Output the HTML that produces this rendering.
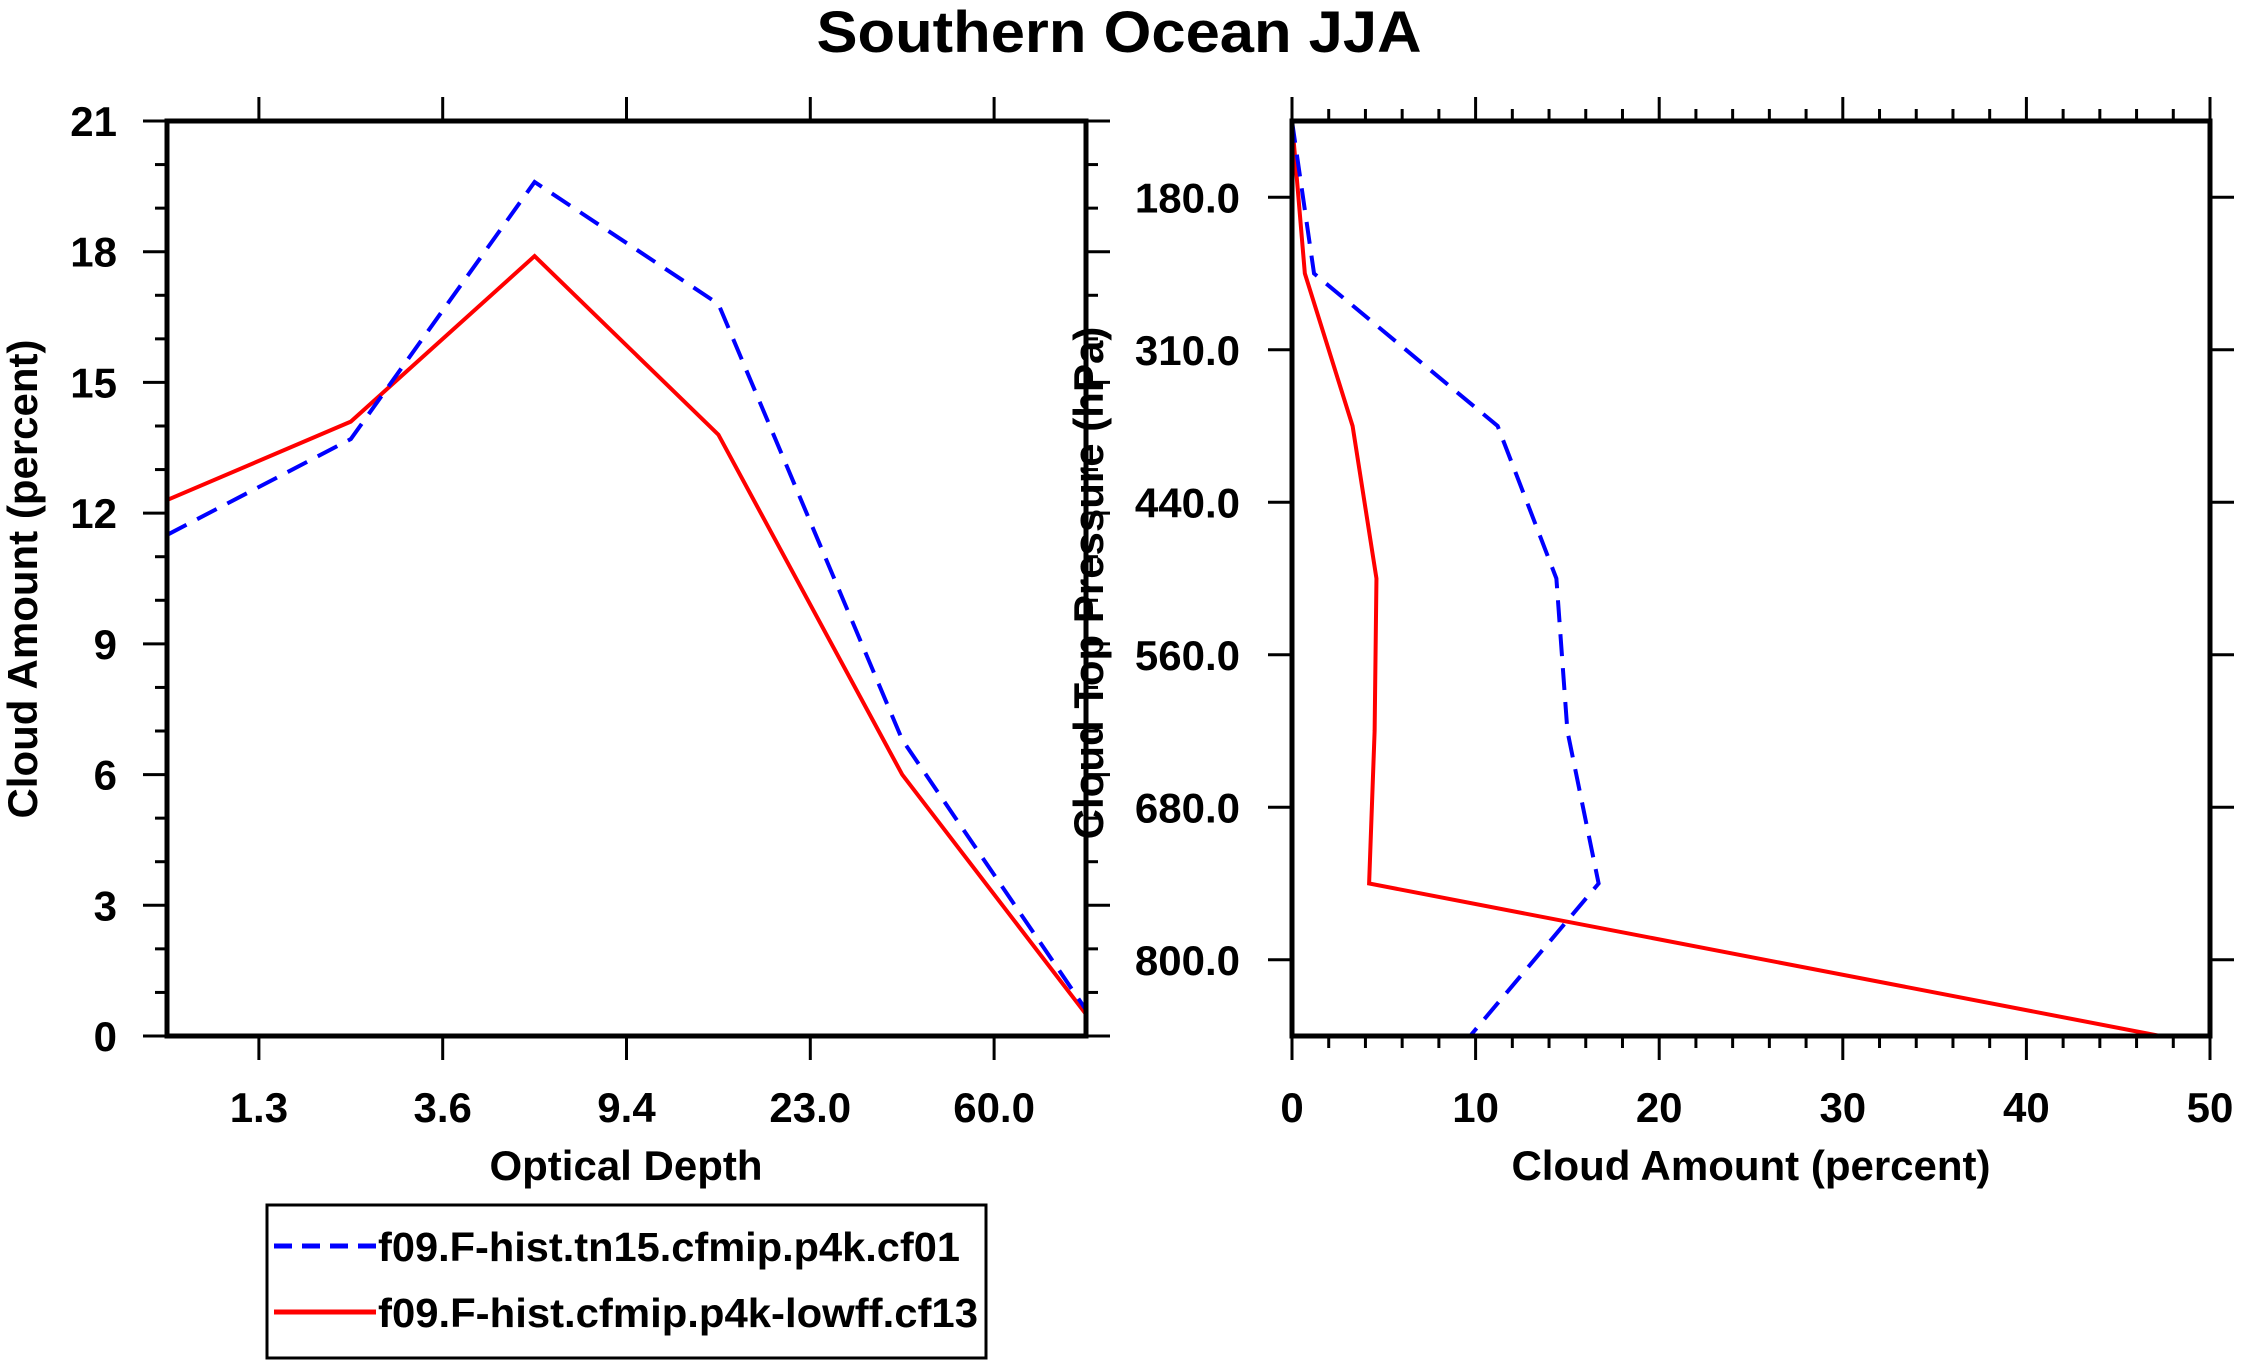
<!DOCTYPE html>
<html><head><meta charset="utf-8"><style>
html,body{margin:0;padding:0;background:#fff;}
svg{display:block;font-family:"Liberation Sans",Arial,sans-serif;font-weight:bold;}
</style></head><body>
<svg id="chart" width="2241" height="1367" viewBox="0 0 2241 1367" xmlns="http://www.w3.org/2000/svg">
<text x="1119" y="52" font-size="58" text-anchor="middle" textLength="605" lengthAdjust="spacingAndGlyphs">Southern Ocean JJA</text>
<g id="left"></g>
<g id="right"></g>
<g>
<rect x="267" y="1205" width="719" height="153" fill="none" stroke="#000" stroke-width="3"/>
<line x1="274" y1="1246" x2="376" y2="1246" stroke="#0000ff" stroke-width="5" stroke-dasharray="18,10"/>
<text x="378" y="1261" font-size="41" textLength="582" lengthAdjust="spacingAndGlyphs">f09.F-hist.tn15.cfmip.p4k.cf01</text>
<line x1="274" y1="1312" x2="376" y2="1312" stroke="#ff0000" stroke-width="5"/>
<text x="378" y="1327" font-size="41" textLength="600" lengthAdjust="spacingAndGlyphs">f09.F-hist.cfmip.p4k-lowff.cf13</text>
</g>
</svg>
<script>
// Left panel data
const tauLabels = ["1.3","3.6","9.4","23.0","60.0"];
const tauBlue = [11.5, 13.7, 19.6, 16.8, 6.8, 0.6];
const tauRed = [12.3, 14.1, 17.9, 13.8, 6.0, 0.5];
const leftYTicks = [0,3,6,9,12,15,18,21];
// Right panel data
const presLabels = ["180.0","310.0","440.0","560.0","680.0","800.0"];
const presBlue = [0, 1.2, 11.2, 14.4, 15.0, 16.7, 9.7];
const presRed = [0, 0.7, 3.3, 4.6, 4.5, 4.2, 47.3];
const rightXTicks = [0,10,20,30,40,50];

const NS="http://www.w3.org/2000/svg";
function mk(parent, tag, attrs){const e=document.createElementNS(NS,tag);for(const k in attrs)e.setAttribute(k,attrs[k]);parent.appendChild(e);return e;}
const TF=42;

// Left panel
const L={x0:167,x1:1086,y0:121,y1:1036};
const lx=i=>L.x0+(L.x1-L.x0)*i/(tauBlue.length-1);
const ly=v=>L.y1-(L.y1-L.y0)*v/21;
const lg=document.getElementById('left');
for(let v=0;v<=21;v++){
  const major=v%3===0, len=major?24:12;
  let t=mk(lg,'line',{x1:L.x0-len,y1:ly(v),x2:L.x0,y2:ly(v),stroke:'#000','stroke-width':3});
  
  
  t=mk(lg,'line',{x1:L.x1,y1:ly(v),x2:L.x1+len,y2:ly(v),stroke:'#000','stroke-width':3});
  
  
}
leftYTicks.forEach(v=>{
  const t=mk(lg,'text',{x:117,y:ly(v)+15,'font-size':TF,'text-anchor':'end'});
  t.textContent=v;
  
  
});
tauLabels.forEach((s,i)=>{
  const x=lx(i+0.5);
  let t=mk(lg,'line',{x1:x,y1:L.y0-24,x2:x,y2:L.y0,stroke:'#000','stroke-width':3});
  
  
  t=mk(lg,'line',{x1:x,y1:L.y1,x2:x,y2:L.y1+24,stroke:'#000','stroke-width':3});
  
  
  t=mk(lg,'text',{x:x,y:1122,'font-size':TF,'text-anchor':'middle'});
  t.textContent=s;
  
  
});
function poly(g,pts,color,dash,name){
  const a={points:pts.map(p=>p.join(',')).join(' '),fill:'none',stroke:color,'stroke-width':4,'stroke-linejoin':'miter'};
  if(dash)a['stroke-dasharray']='22,12';
  const p=mk(g,'polyline',a);
  
  
}
poly(lg,tauRed.map((v,i)=>[lx(i),ly(v)]),'#ff0000',false,'left-series-cf13');
poly(lg,tauBlue.map((v,i)=>[lx(i),ly(v)]),'#0000ff',true,'left-series-cf01');
let fr=mk(lg,'rect',{x:L.x0,y:L.y0,width:L.x1-L.x0,height:L.y1-L.y0,fill:'none',stroke:'#000','stroke-width':5});


let at=mk(lg,'text',{x:626,y:1180,'font-size':42,'text-anchor':'middle'});
at.textContent='Optical Depth';


at=mk(lg,'text',{x:0,y:0,'font-size':42,'text-anchor':'middle',transform:'translate(37,579) rotate(-90)'});
at.textContent='Cloud Amount (percent)';



// Right panel
const R={x0:1292,x1:2210,y0:121,y1:1036};
const rx=v=>R.x0+(R.x1-R.x0)*v/50;
const ry=i=>R.y0+(R.y1-R.y0)*i/(presBlue.length-1);
const rg=document.getElementById('right');
for(let v=0;v<=50;v+=2){
  const major=v%10===0, len=major?24:12;
  let t=mk(rg,'line',{x1:rx(v),y1:R.y0-len,x2:rx(v),y2:R.y0,stroke:'#000','stroke-width':3});
  
  
  t=mk(rg,'line',{x1:rx(v),y1:R.y1,x2:rx(v),y2:R.y1+len,stroke:'#000','stroke-width':3});
  
  
}
rightXTicks.forEach(v=>{
  const t=mk(rg,'text',{x:rx(v),y:1122,'font-size':TF,'text-anchor':'middle'});
  t.textContent=v;
  
  
});
presLabels.forEach((s,i)=>{
  const y=ry(i+0.5);
  let t=mk(rg,'line',{x1:R.x0-24,y1:y,x2:R.x0,y2:y,stroke:'#000','stroke-width':3});
  
  
  t=mk(rg,'line',{x1:R.x1,y1:y,x2:R.x1+24,y2:y,stroke:'#000','stroke-width':3});
  
  
  t=mk(rg,'text',{x:1240,y:y+15,'font-size':TF,'text-anchor':'end'});
  t.textContent=s;
  
  
});
poly(rg,presRed.map((v,i)=>[rx(v),ry(i)]),'#ff0000',false,'right-series-cf13');
poly(rg,presBlue.map((v,i)=>[rx(v),ry(i)]),'#0000ff',true,'right-series-cf01');
fr=mk(rg,'rect',{x:R.x0,y:R.y0,width:R.x1-R.x0,height:R.y1-R.y0,fill:'none',stroke:'#000','stroke-width':5});


at=mk(rg,'text',{x:1751,y:1180,'font-size':42,'text-anchor':'middle'});
at.textContent='Cloud Amount (percent)';


at=mk(rg,'text',{x:0,y:0,'font-size':42,'text-anchor':'middle',transform:'translate(1103,583) rotate(-90)'});
at.textContent='Cloud Top Pressure (hPa)';


</script>
</body></html>
